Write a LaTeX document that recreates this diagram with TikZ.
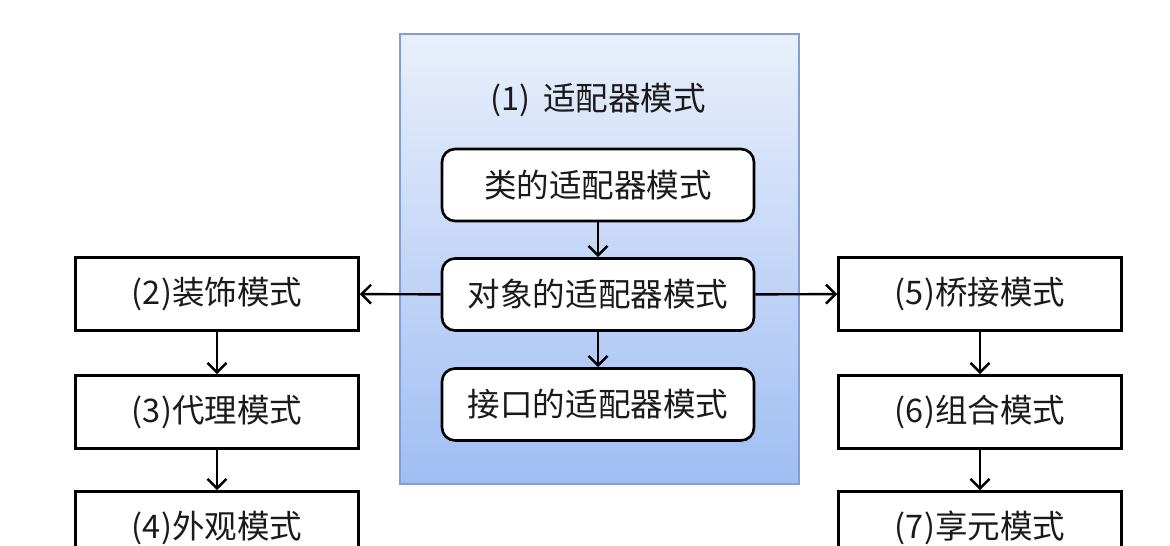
\documentclass[tikz,border=0pt]{standalone}
\usepackage{fontspec}
\setmainfont{Noto Sans CJK SC}
\usepackage{xcolor}
\usetikzlibrary{arrows.meta,positioning}

\definecolor{frameline}{HTML}{7F9FD6}
\definecolor{frametop}{HTML}{E9EFFB}
\definecolor{framebot}{HTML}{A0BEF3}
\definecolor{textdark}{HTML}{1A1A1A}

\tikzset{
  pattern box/.style={draw, line width=1.5pt, fill=white, text=textdark,
    minimum width=5.66cm, minimum height=1.46cm, inner sep=0pt,
    font=\fontsize{18.5}{22}\selectfont},
  adapter box/.style={pattern box, rounded corners=0.26cm,
    minimum width=6.24cm, minimum height=1.44cm},
  link/.style={-{Straight Barb[length=1.9mm,width=3.8mm]}, line width=1.4pt},
}

\begin{document}
\begin{tikzpicture}[x=0.02cm,y=-0.02cm]
        \useasboundingbox (0,0) rectangle (1170,545);
        \clip (0,0) rectangle (1170,545);

        % adapter pattern group
        \node[draw=frameline, line width=0.8pt, top color=frametop, bottom color=framebot,
              minimum width=7.98cm, minimum height=9cm, inner sep=0pt] (group) at (599.5,259) {};
        \node[text=textdark, font=\fontsize{18.5}{22}\selectfont] (title) at (598,100) {(1)\, 适配器模式};
        \node[adapter box] (classadp) at (598,185) {类的适配器模式};
        \node[adapter box] (objadp) at (598,294.5) {对象的适配器模式};
        \node[adapter box] (ifaceadp) at (598,404.5) {接口的适配器模式};

        % left column
        \node[pattern box] (decorator) at (217,294) {(2)装饰模式};
        \node[pattern box] (proxy) at (217,412) {(3)代理模式};
        \node[pattern box] (facade) at (217,528) {(4)外观模式};

        % right column
        \node[pattern box] (bridge) at (980,294) {(5)桥接模式};
        \node[pattern box] (composite) at (980,412) {(6)组合模式};
        \node[pattern box] (flyweight) at (980,528) {(7)享元模式};

        \draw[link] (classadp) -- (objadp);
        \draw[link] (objadp) -- (ifaceadp);
        \draw[link] (objadp) -- (decorator);
        \draw[link] (objadp) -- (bridge);
        \draw[link] (decorator) -- (proxy);
        \draw[link] (proxy) -- (facade);
        \draw[link] (bridge) -- (composite);
        \draw[link] (composite) -- (flyweight);
    \end{tikzpicture}
\end{document}
